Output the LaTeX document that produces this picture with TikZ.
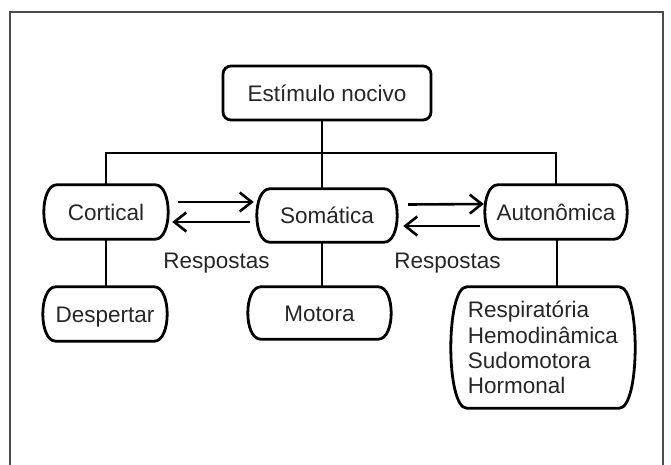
\documentclass[tikz,border=0pt]{standalone}
\usepackage{fontspec}
\setmainfont{Liberation Sans}
\usetikzlibrary{arrows.meta}
\newcommand\bulgebox[2][13]{%
  \draw[boxline] ([xshift=#1pt]#2.north west) -- ([xshift=-#1pt]#2.north east)
    .. controls ([xshift={#1pt/3}]#2.north east) and ([xshift={#1pt/3}]#2.south east) .. ([xshift=-#1pt]#2.south east)
    -- ([xshift=#1pt]#2.south west)
    .. controls ([xshift={-#1pt/3}]#2.south west) and ([xshift={-#1pt/3}]#2.north west) .. cycle;}
\begin{document}
\begin{tikzpicture}[x=1pt,y=-1pt,
  lab/.style={font=\fontsize{22.5}{25.3}\selectfont, inner sep=0pt, text=black!85},
  boxnode/.style={lab, text height=16pt, text depth=0pt},
  boxline/.style={line width=2.8pt, line join=round},
  conn/.style={line width=2.6pt},
  arr/.style={line width=2.6pt, -{Straight Barb[length=12pt,width=19pt]}}]
\useasboundingbox (0,0) rectangle (671,464);
\draw[line width=1.6pt, gray!60!black] (10,470) -- (10,12) -- (663,12) -- (663,470);

\node[boxnode, minimum width=208pt, minimum height=54pt, draw, line width=2.8pt, rounded corners=8pt] (est) at (327,93) {Estímulo nocivo};
\node[boxnode, minimum width=124pt, minimum height=54pt] (cort) at (106,212) {Cortical};
\node[boxnode, minimum width=140pt, minimum height=53pt] (som) at (327,215.5) {Somática};
\node[boxnode, minimum width=142pt, minimum height=54pt] (auto) at (556,212) {Autonômica};
\node[boxnode, minimum width=124pt, minimum height=54pt] (desp) at (105,314) {Despertar};
\node[boxnode, minimum width=143pt, minimum height=52pt] (mot) at (319.5,313) {Motora};
\node[lab, align=left, minimum width=184pt, minimum height=121pt] (resp) at (543,347.5) {Respiratória\\Hemodinâmica\\Sudomotora\\Hormonal};

\bulgebox{cort}
\bulgebox{som}
\bulgebox{auto}
\bulgebox{desp}
\bulgebox{mot}
\bulgebox[16]{resp}

\coordinate (trunk) at (322,153);
\draw[conn] (cort.north) |- (trunk) -| (auto.north);
\draw[conn] (trunk |- est.south) -- (trunk |- som.north);
\draw[conn] (cort.south) -- (cort.south |- desp.north);
\draw[conn] (trunk |- som.south) -- (trunk |- mot.north);
\draw[conn] ([xshift=1pt]auto.south) -- ([xshift=1pt]auto.south |- resp.north);

\draw[arr] ([shift={(10,-10)}]cort.east) -- ([shift={(-3,-13.5)}]som.west);
\draw[arr] ([shift={(-7,6.5)}]som.west) -- ([shift={(4,10)}]cort.east);
\draw[arr] ([shift={(11,-11)}]som.east) -- ([shift={(-1,-8)}]auto.west);
\draw[arr] ([shift={(-5,14)}]auto.west) -- ([shift={(6,10.5)}]som.east);

\node[lab, anchor=base] (r1) at (216.5,268) {Respostas};
\node[lab, anchor=base] (r2) at (447.5,268) {Respostas};
\end{tikzpicture}
\end{document}
